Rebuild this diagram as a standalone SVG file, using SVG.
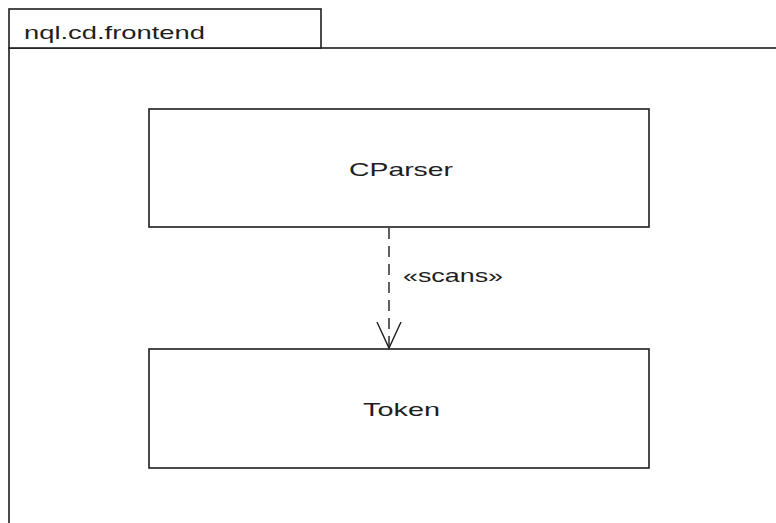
<svg xmlns="http://www.w3.org/2000/svg" width="776" height="523" viewBox="0 0 776 523">
<style>
.frame{fill:#fff;stroke:#1e1e1e;stroke-width:1.6}
.lbl{font-family:"Liberation Sans",Arial,sans-serif;font-size:19px;fill:#1e1e1e}
.dep{fill:none;stroke:#1e1e1e;stroke-width:1.4}
</style>
<rect width="776" height="523" fill="#fff"/>
<g id="package">
<rect class="frame" x="9" y="48" width="800" height="520"/>
<rect class="frame" x="9" y="9" width="312" height="39"/>
<text class="lbl" x="24" y="39" textLength="181" lengthAdjust="spacingAndGlyphs">nql.cd.frontend</text>
</g>
<g id="CParser">
<rect class="frame" x="149" y="109" width="500" height="118"/>
<text class="lbl" x="349" y="176" textLength="104" lengthAdjust="spacingAndGlyphs">CParser</text>
</g>
<g id="Token">
<rect class="frame" x="149" y="349" width="500" height="119"/>
<text class="lbl" x="363" y="416" textLength="77" lengthAdjust="spacingAndGlyphs">Token</text>
</g>
<g id="connectors">
<line class="dep" x1="389" y1="228" x2="389" y2="347" stroke-dasharray="11,7"/>
<polyline class="dep" points="377,322 389,348 401,322"/>
<text class="lbl" x="403" y="282" textLength="100" lengthAdjust="spacingAndGlyphs">«scans»</text>
</g>
</svg>
